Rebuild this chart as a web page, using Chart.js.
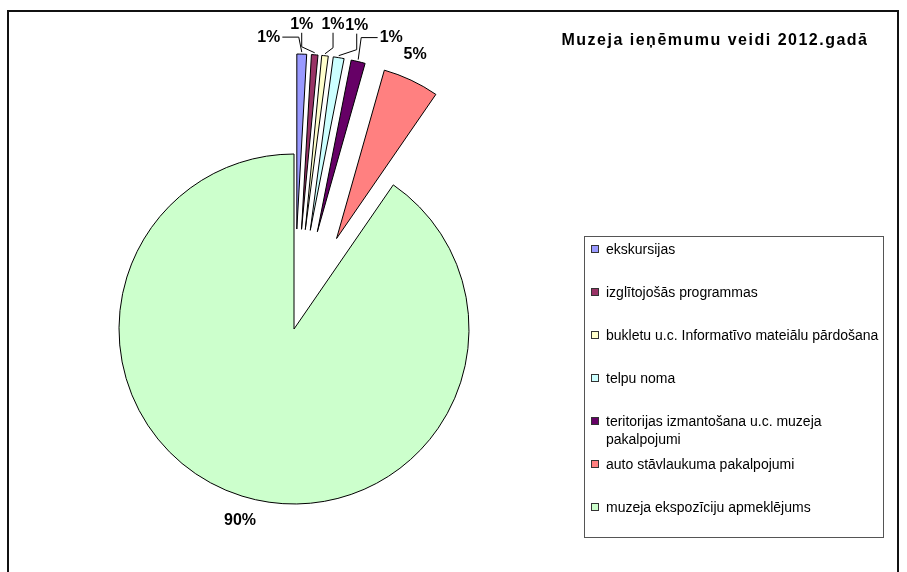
<!DOCTYPE html>
<html><head><meta charset="utf-8">
<script src="https://cdn.jsdelivr.net/npm/chart.js@4.4.1/dist/chart.umd.min.js"></script>
<style>
html,body{margin:0;padding:0;background:#fff;}
#wrap{position:relative;width:907px;height:572px;overflow:hidden;font-family:"Liberation Sans",Arial,sans-serif;color:#000;}
#frame{position:absolute;left:7px;top:10px;width:892px;height:620px;border:2px solid #111;box-sizing:border-box;}
#c{position:absolute;left:0;top:0;}
#title{position:absolute;left:530px;width:370px;top:31px;text-align:center;font-weight:bold;font-size:16px;line-height:18px;letter-spacing:1.5px;white-space:nowrap;}
#legend{position:absolute;left:584px;top:236px;width:300px;height:302px;border:1px solid #555;box-sizing:border-box;}
.item{position:absolute;left:6px;font-size:14px;line-height:18px;width:292px;}
.sw{position:absolute;left:0;top:5px;width:6px;height:6px;border:1px solid #333;}
.tx{margin-left:15px;}
</style>
</head><body>
<div id="wrap">
  <div id="frame"></div>
  <canvas id="c" width="907" height="572"></canvas>
  <div id="title">Muzeja ieņēmumu veidi 2012.gadā</div>
  <div id="legend"></div>
</div>
<script>
// ---- data ----
const categories = [
  "ekskursijas",
  "izglītojošās programmas",
  "bukletu u.c. Informatīvo mateiālu pārdošana",
  "telpu noma",
  "teritorijas izmantošana u.c. muzeja pakalpojumi",
  "auto stāvlaukuma pakalpojumi",
  "muzeja ekspozīciju apmeklējums"
];
const shares = [0.9, 0.6, 0.6, 1.0, 1.3, 5.2, 90.4];
const colors = ["#9999FF", "#993366", "#FFFFCC", "#CCFFFF", "#660066", "#FF8080", "#CCFFCC"];

// ---- style / layout (not data) ----
const explode = [100, 100, 100, 100, 100, 100, 0];
// label offset relative to slice outer-mid point, and leader style
const labelLayout = [
  {dx: -33, dy: -17, leader: 'h'},
  {dx: -13, dy: -30, leader: 'v'},
  {dx: 8,   dy: -31, leader: 'v'},
  {dx: 18,  dy: -32, leader: 'v'},
  {dx: 33,  dy: -24, leader: 'h'},
  {dx: 4,   dy: -26, leader: null},
  {dx: -2,  dy: 24,  leader: null}
];

// legend (HTML, real text)
const legendEl = document.getElementById('legend');
categories.forEach((name, i) => {
  const it = document.createElement('div');
  it.className = 'item';
  it.style.top = (3 + i * 43) + 'px';
  const sw = document.createElement('div');
  sw.className = 'sw';
  sw.style.background = colors[i];
  const tx = document.createElement('div');
  tx.className = 'tx';
  tx.textContent = name;
  it.appendChild(sw); it.appendChild(tx);
  legendEl.appendChild(it);
});

const explodePlugin = {
  id: 'explode',
  beforeDatasetDraw(chart, args) {
    const ctx = chart.ctx;
    args.meta.data.forEach((arc, i) => {
      const mid = (arc.startAngle + arc.endAngle) / 2;
      const d = explode[i] || 0;
      ctx.save();
      ctx.translate(Math.cos(mid) * d, Math.sin(mid) * d);
      arc.draw(ctx);
      ctx.restore();
    });
    return false;
  },
  afterDatasetsDraw(chart) {
    const ctx = chart.ctx;
    const meta = chart.getDatasetMeta(0);
    const vals = chart.data.datasets[0].data;
    const total = vals.reduce((a, b) => a + b, 0);
    ctx.save();
    ctx.font = 'bold 16px "Liberation Sans", Arial, sans-serif';
    ctx.fillStyle = '#000';
    ctx.strokeStyle = '#000';
    ctx.lineWidth = 1;
    ctx.textAlign = 'center';
    ctx.textBaseline = 'middle';
    meta.data.forEach((arc, i) => {
      const mid = (arc.startAngle + arc.endAngle) / 2;
      const r = arc.outerRadius + (explode[i] || 0);
      const ax = arc.x + Math.cos(mid) * r;
      const ay = arc.y + Math.sin(mid) * r;
      const L = labelLayout[i];
      const lx = ax + L.dx, ly = ay + L.dy;
      const txt = Math.round(vals[i] / total * 100) + '%';
      const w = ctx.measureText(txt).width;
      if (L.leader === 'h') {
        const sgn = Math.sign(ax - lx);
        const sx = lx + sgn * (w / 2 + 2);
        const ex = ax - sgn * 3;
        ctx.beginPath();
        ctx.moveTo(sx, ly); ctx.lineTo(ex, ly); ctx.lineTo(ax, ay - 2);
        ctx.stroke();
      } else if (L.leader === 'v') {
        const sy = ly + 8;
        ctx.beginPath();
        ctx.moveTo(lx, sy); ctx.lineTo(lx, ay - 8); ctx.lineTo(ax, ay - 2);
        ctx.stroke();
      }
      ctx.fillText(txt, lx, ly);
    });
    ctx.restore();
  }
};

new Chart(document.getElementById('c'), {
  type: 'pie',
  data: {
    labels: categories,
    datasets: [{
      data: shares,
      backgroundColor: colors,
      borderColor: '#000',
      borderWidth: 1
    }]
  },
  options: {
    responsive: false,
    animation: false,
    radius: 175,
    layout: {padding: {left: 0, right: 319, top: 86, bottom: 0}},
    plugins: {legend: {display: false}, title: {display: false}, tooltip: {enabled: false}},
    events: []
  },
  plugins: [explodePlugin]
});
</script>
</body></html>
